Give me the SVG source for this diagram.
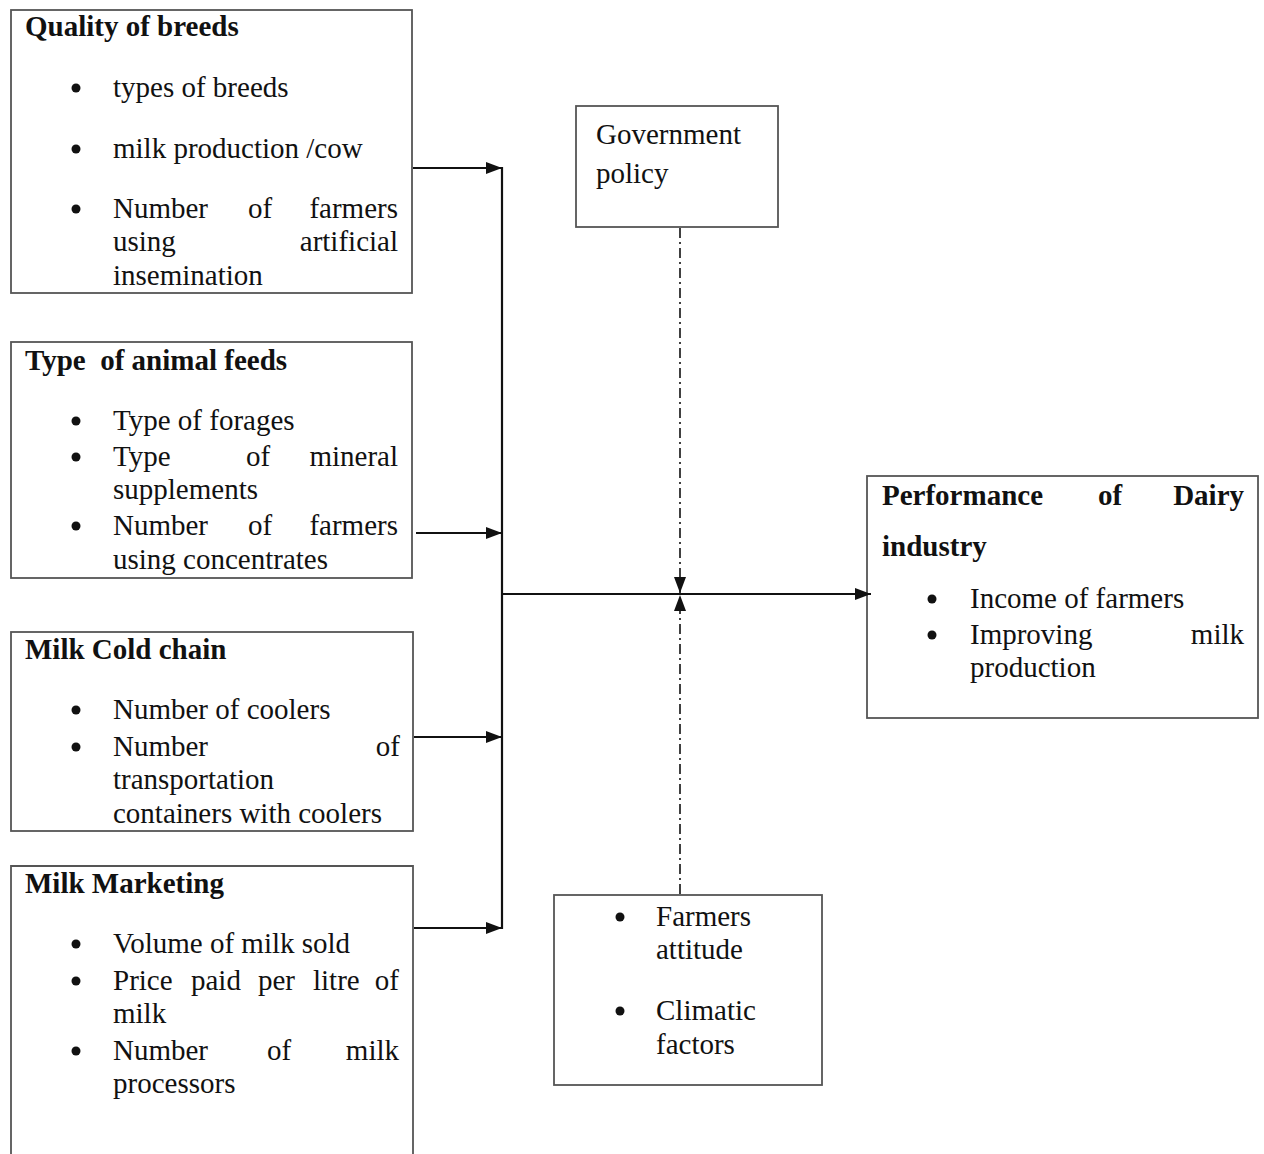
<svg xmlns="http://www.w3.org/2000/svg" width="1264" height="1154" viewBox="0 0 1264 1154">
<defs>
<style>
.box{fill:#fff;stroke:#555;stroke-width:1.8}
.t{font-family:"Liberation Serif","Times New Roman","DejaVu Serif",serif;font-size:29px;fill:#111}
.b{font-weight:bold}
.e{text-anchor:end}
.m{text-anchor:middle}
.dot{fill:#111}
.ln{stroke:#111;stroke-width:2.2;fill:none}
.dd{stroke:#111;stroke-width:1.6;fill:none;stroke-dasharray:10 4 2 4}
</style>
<marker id="ah" viewBox="0 0 16 12" refX="16" refY="6" markerWidth="16" markerHeight="12" markerUnits="userSpaceOnUse" orient="auto">
<path d="M0,0 L16,6 L0,12 Z" fill="#111"/>
</marker>
</defs>
<rect width="1264" height="1154" fill="#fff"/>

<g id="quality-of-breeds">
<rect class="box" x="11" y="10" width="401" height="283"/>
<text class="t b" x="25" y="36">Quality of breeds</text>
<circle class="dot" cx="76" cy="88" r="4.5"/>
<text class="t" x="113" y="97">types of breeds</text>
<circle class="dot" cx="76" cy="149" r="4.5"/>
<text class="t" x="113" y="158">milk production /cow</text>
<circle class="dot" cx="76" cy="209" r="4.5"/>
<text class="t" x="113" y="218">Number</text>
<text class="t m" x="260" y="218">of</text>
<text class="t e" x="398" y="218">farmers</text>
<text class="t" x="113" y="251">using</text>
<text class="t e" x="398" y="251">artificial</text>
<text class="t" x="113" y="285">insemination</text>
</g>

<g id="type-of-animal-feeds">
<rect class="box" x="11" y="342" width="401" height="236"/>
<text class="t b" x="25" y="370" xml:space="preserve">Type  of animal feeds</text>
<circle class="dot" cx="76" cy="421" r="4.5"/>
<text class="t" x="113" y="430">Type of forages</text>
<circle class="dot" cx="76" cy="457" r="4.5"/>
<text class="t" x="113" y="466">Type</text>
<text class="t m" x="258" y="466">of</text>
<text class="t e" x="398" y="466">mineral</text>
<text class="t" x="113" y="499">supplements</text>
<circle class="dot" cx="76" cy="526" r="4.5"/>
<text class="t" x="113" y="535">Number</text>
<text class="t m" x="260" y="535">of</text>
<text class="t e" x="398" y="535">farmers</text>
<text class="t" x="113" y="569">using concentrates</text>
</g>

<g id="milk-cold-chain">
<rect class="box" x="11" y="632" width="402" height="199"/>
<text class="t b" x="25" y="659">Milk Cold chain</text>
<circle class="dot" cx="76" cy="710" r="4.5"/>
<text class="t" x="113" y="719">Number of coolers</text>
<circle class="dot" cx="76" cy="747" r="4.5"/>
<text class="t" x="113" y="756">Number</text>
<text class="t e" x="400" y="756">of</text>
<text class="t" x="113" y="789">transportation</text>
<text class="t" x="113" y="823">containers with coolers</text>
</g>

<g id="milk-marketing">
<path class="box" d="M11,1160 V866 H413 V1160"/>
<text class="t b" x="25" y="893">Milk Marketing</text>
<circle class="dot" cx="76" cy="944" r="4.5"/>
<text class="t" x="113" y="953">Volume of milk sold</text>
<circle class="dot" cx="76" cy="981" r="4.5"/>
<text class="t" x="113" y="990">Price</text>
<text class="t" x="191" y="990">paid</text>
<text class="t" x="258" y="990">per</text>
<text class="t" x="313" y="990">litre</text>
<text class="t e" x="399" y="990">of</text>
<text class="t" x="113" y="1023">milk</text>
<circle class="dot" cx="76" cy="1051" r="4.5"/>
<text class="t" x="113" y="1060">Number</text>
<text class="t m" x="279" y="1060">of</text>
<text class="t e" x="399" y="1060">milk</text>
<text class="t" x="113" y="1093">processors</text>
</g>

<g id="government-policy">
<rect class="box" x="576" y="106" width="202" height="121"/>
<text class="t" x="596" y="144">Government</text>
<text class="t" x="596" y="183">policy</text>
</g>

<g id="performance-of-dairy-industry">
<rect class="box" x="867" y="476" width="391" height="242"/>
<text class="t b" x="882" y="505">Performance</text>
<text class="t b m" x="1110" y="505">of</text>
<text class="t b e" x="1244" y="505">Dairy</text>
<text class="t b" x="882" y="556">industry</text>
<circle class="dot" cx="932" cy="599" r="4.5"/>
<text class="t" x="970" y="608">Income of farmers</text>
<circle class="dot" cx="932" cy="635" r="4.5"/>
<text class="t" x="970" y="644">Improving</text>
<text class="t e" x="1244" y="644">milk</text>
<text class="t" x="970" y="677">production</text>
</g>

<g id="moderating-factors">
<rect class="box" x="554" y="895" width="268" height="190"/>
<circle class="dot" cx="620" cy="917" r="4.5"/>
<text class="t" x="656" y="926">Farmers</text>
<text class="t" x="656" y="959">attitude</text>
<circle class="dot" cx="620" cy="1011" r="4.5"/>
<text class="t" x="656" y="1020">Climatic</text>
<text class="t" x="656" y="1054">factors</text>
</g>

<g id="connectors">
<line class="ln" x1="502" y1="167" x2="502" y2="929"/>
<line class="ln" x1="413" y1="168" x2="502" y2="168" marker-end="url(#ah)"/>
<line class="ln" x1="416" y1="533" x2="502" y2="533" marker-end="url(#ah)"/>
<line class="ln" x1="414" y1="737" x2="502" y2="737" marker-end="url(#ah)"/>
<line class="ln" x1="414" y1="928" x2="502" y2="928" marker-end="url(#ah)"/>
<line class="ln" x1="502" y1="594" x2="871" y2="594" marker-end="url(#ah)"/>
<line class="dd" x1="680" y1="228" x2="680" y2="593" marker-end="url(#ah)"/>
<line class="dd" x1="680" y1="894" x2="680" y2="595" marker-end="url(#ah)"/>
</g>
</svg>
